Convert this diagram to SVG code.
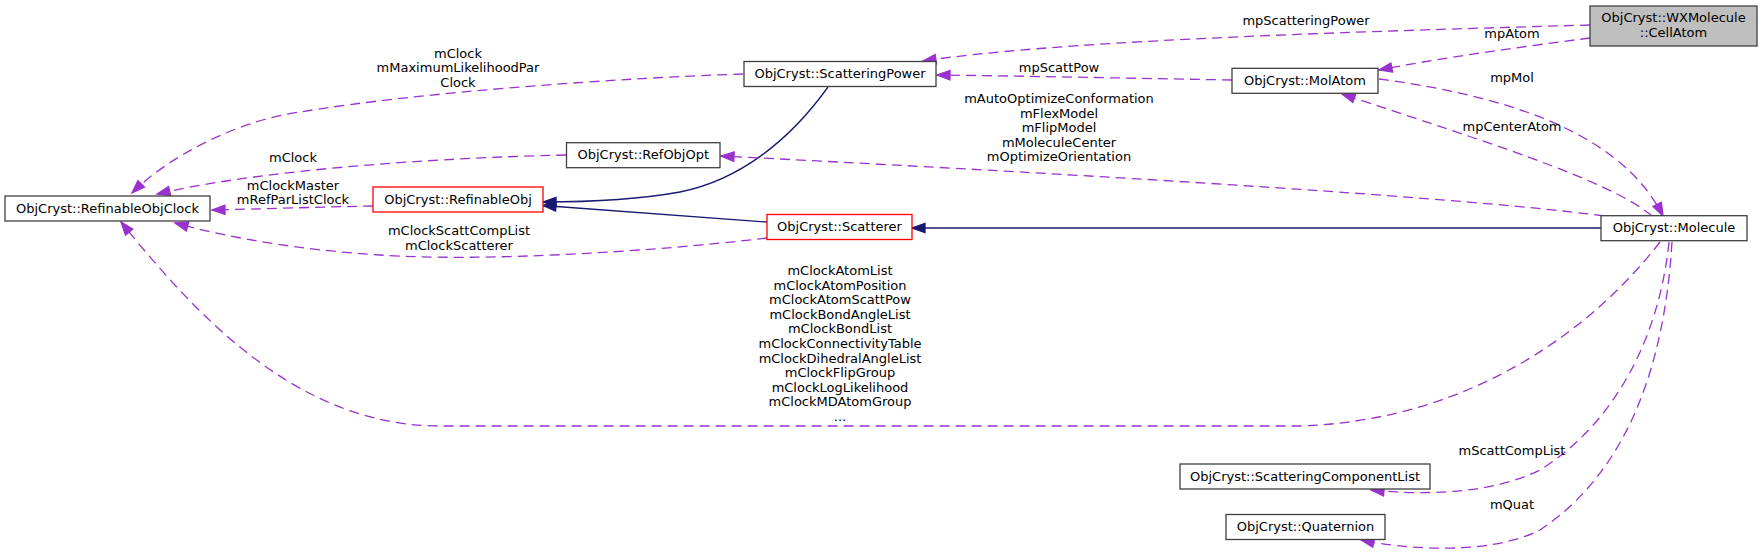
<svg xmlns="http://www.w3.org/2000/svg" width="1763" height="553" viewBox="0 0 1763 553">
<defs>
<style>
text{font-family:"DejaVu Sans","Liberation Sans",sans-serif;font-size:13px;fill:#000;text-anchor:middle}
.box{fill:#fff;stroke:#404040;stroke-width:1.3}
.red{fill:#fff;stroke:#ff0000;stroke-width:1.3}
.gray{fill:#bfbfbf;stroke:#404040;stroke-width:1.3}
.use{fill:none;stroke:#9a32cd;stroke-width:1.3;stroke-dasharray:10,6;marker-end:url(#ap)}
.inh{fill:none;stroke:#191970;stroke-width:1.3;marker-end:url(#an)}
</style>
<marker id="ap" markerUnits="userSpaceOnUse" markerWidth="16" markerHeight="12" refX="13" refY="4.67" orient="auto" overflow="visible">
<path d="M0,0 L13,4.67 L0,9.33 z" fill="#9a32cd" stroke="#9a32cd" stroke-width="1.3"/>
</marker>
<marker id="an" markerUnits="userSpaceOnUse" markerWidth="16" markerHeight="12" refX="13" refY="4.67" orient="auto" overflow="visible">
<path d="M0,0 L13,4.67 L0,9.33 z" fill="#191970" stroke="#191970" stroke-width="1.3"/>
</marker>
</defs>
<rect width="1763" height="553" fill="#fff"/>
<g id="connectors">
<path class="use" d="M743,74 C620,78 420,92 300,112 C240,120 170,155 132,193"/>
<path class="use" d="M566,155 C430,158 260,170 157,194"/>
<path class="use" d="M373,206 C320,207 260,209 212,210"/>
<path class="use" d="M767,238 C650,252 480,262 380,255 C300,250 230,238 175,223"/>
<path class="use" d="M1660,242 C1600,320 1480,420 1300,426 L440,426 C300,426 200,320 121,222"/>
<path class="inh" d="M828,87 C790,140 740,180 680,192 C630,201 580,202 543,202"/>
<path class="inh" d="M767,222 L543,205.5"/>
<path class="inh" d="M1601,228 L912,228"/>
<path class="use" d="M1590,25 C1300,33 1050,42 923,61"/>
<path class="use" d="M1590,38 C1520,47 1440,58 1379,70"/>
<path class="use" d="M1232,80 C1120,78 1020,76 937,75"/>
<path class="use" d="M1379,79 C1500,95 1620,130 1663,216"/>
<path class="use" d="M1652,216 C1610,180 1480,140 1342,94"/>
<path class="use" d="M1604,216 C1450,195 1000,170 721,156"/>
<path class="use" d="M1669,242 C1660,330 1620,420 1540,470 C1490,495 1420,495 1371,490"/>
<path class="use" d="M1672,242 C1665,360 1630,470 1540,530 C1490,555 1410,550 1361,540"/>
<text x="458" y="57.5">mClock</text>
<text x="458" y="72">mMaximumLikelihoodPar</text>
<text x="458" y="86.5">Clock</text>
<text x="293" y="162">mClock</text>
<text x="293" y="189.5">mClockMaster</text>
<text x="293" y="204">mRefParListClock</text>
<text x="459" y="235">mClockScattCompList</text>
<text x="459" y="249.5">mClockScatterer</text>
<text x="840" y="275">mClockAtomList</text>
<text x="840" y="289.6">mClockAtomPosition</text>
<text x="840" y="304.2">mClockAtomScattPow</text>
<text x="840" y="318.8">mClockBondAngleList</text>
<text x="840" y="333.4">mClockBondList</text>
<text x="840" y="348">mClockConnectivityTable</text>
<text x="840" y="362.6">mClockDihedralAngleList</text>
<text x="840" y="377.2">mClockFlipGroup</text>
<text x="840" y="391.8">mClockLogLikelihood</text>
<text x="840" y="406.4">mClockMDAtomGroup</text>
<text x="840" y="421">...</text>
<text x="1059" y="103">mAutoOptimizeConformation</text>
<text x="1059" y="117.5">mFlexModel</text>
<text x="1059" y="132">mFlipModel</text>
<text x="1059" y="146.5">mMoleculeCenter</text>
<text x="1059" y="161">mOptimizeOrientation</text>
<text x="1059" y="72">mpScattPow</text>
<text x="1306" y="25">mpScatteringPower</text>
<text x="1512" y="38">mpAtom</text>
<text x="1512" y="82">mpMol</text>
<text x="1512" y="131">mpCenterAtom</text>
<text x="1512" y="455">mScattCompList</text>
<text x="1512" y="509">mQuat</text>
</g>
<g id="n_clock"><rect class="box" x="5" y="196" width="205" height="25"/><text x="107.5" y="212.5">ObjCryst::RefinableObjClock</text></g>
<g id="n_refobj"><rect class="red" x="373" y="187" width="170" height="25"/><text x="458" y="203.5">ObjCryst::RefinableObj</text></g>
<g id="n_refobjopt"><rect class="box" x="566.5" y="142.7" width="153.5" height="25"/><text x="643.3" y="159.2">ObjCryst::RefObjOpt</text></g>
<g id="n_scattpow"><rect class="box" x="744" y="61.5" width="192" height="25"/><text x="840" y="78">ObjCryst::ScatteringPower</text></g>
<g id="n_scatterer"><rect class="red" x="767" y="214.5" width="145" height="25"/><text x="839.5" y="231">ObjCryst::Scatterer</text></g>
<g id="n_molatom"><rect class="box" x="1232" y="68.3" width="146" height="25"/><text x="1305" y="84.8">ObjCryst::MolAtom</text></g>
<g id="n_cellatom"><rect class="gray" x="1590" y="6" width="167" height="40"/><text x="1673.5" y="22">ObjCryst::WXMolecule</text><text x="1673.5" y="37">::CellAtom</text></g>
<g id="n_molecule"><rect class="box" x="1601" y="215.7" width="146" height="25"/><text x="1674" y="232.2">ObjCryst::Molecule</text></g>
<g id="n_scl"><rect class="box" x="1180" y="464" width="250" height="25"/><text x="1305" y="480.5">ObjCryst::ScatteringComponentList</text></g>
<g id="n_quat"><rect class="box" x="1226" y="514.5" width="159" height="25"/><text x="1305.5" y="531">ObjCryst::Quaternion</text></g>
</svg>
